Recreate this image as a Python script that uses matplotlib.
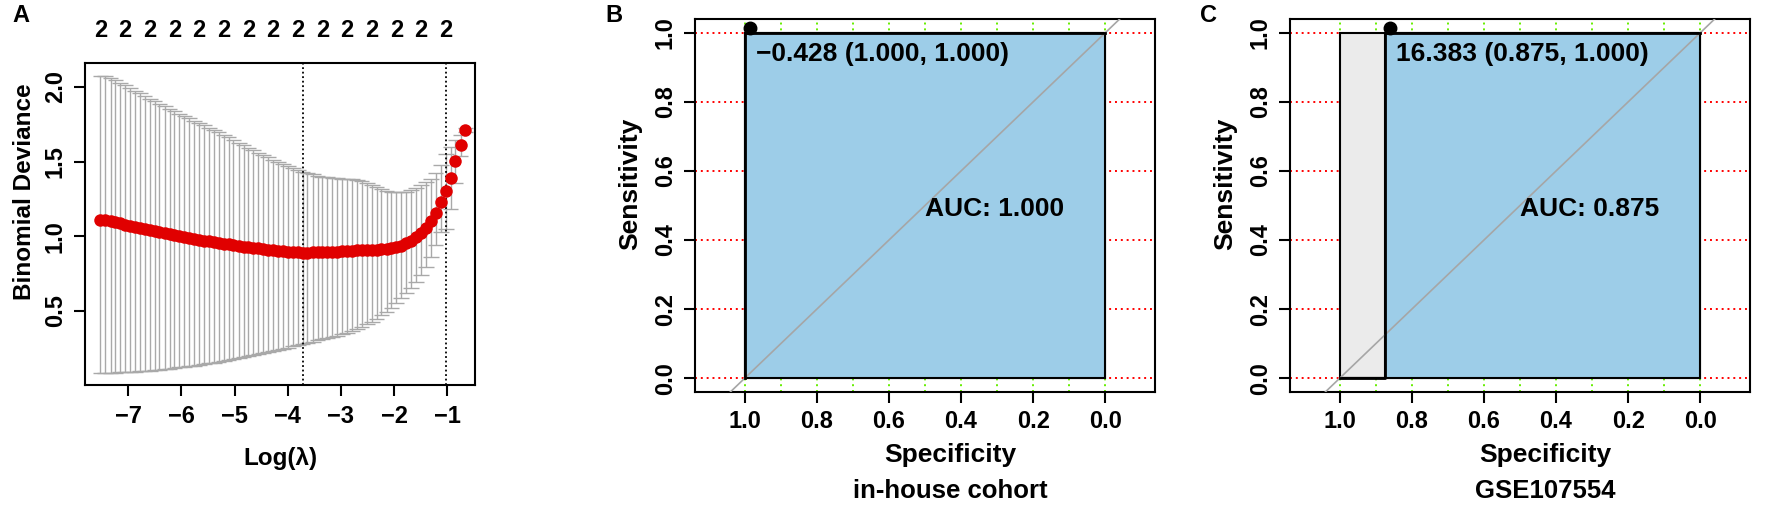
import matplotlib
matplotlib.use("Agg")
import matplotlib.pyplot as plt
from matplotlib.transforms import ScaledTranslation, blended_transform_factory

plt.rcParams['font.family'] = ['Liberation Sans', 'DejaVu Sans']
plt.rcParams['font.weight'] = 'bold'
plt.rcParams['axes.linewidth'] = 1.5

# ---- Panel A: cross-validated binomial deviance (glmnet) ----
log_lambda = [
    -7.52, -7.43, -7.33, -7.24, -7.15, -7.06, -6.96, -6.87, -6.78, -6.69,
    -6.59, -6.50, -6.41, -6.31, -6.22, -6.13, -6.04, -5.94, -5.85, -5.76,
    -5.67, -5.57, -5.48, -5.39, -5.30, -5.20, -5.11, -5.02, -4.92, -4.83,
    -4.74, -4.65, -4.55, -4.46, -4.37, -4.28, -4.18, -4.09, -4.00, -3.90,
    -3.81, -3.72, -3.63, -3.53, -3.44, -3.35, -3.26, -3.16, -3.07, -2.98,
    -2.89, -2.79, -2.70, -2.61, -2.51, -2.42, -2.33, -2.24, -2.14, -2.05,
    -1.96, -1.87, -1.77, -1.68, -1.59, -1.50, -1.40, -1.31, -1.22, -1.12,
    -1.03, -0.94, -0.85, -0.75, -0.66,
]
cv_mean = [
    1.108, 1.106, 1.100, 1.093, 1.086, 1.079, 1.072, 1.065, 1.058, 1.051,
    1.044, 1.037, 1.030, 1.023, 1.016, 1.009, 1.002, 0.996, 0.990, 0.984,
    0.978, 0.972, 0.966, 0.961, 0.956, 0.951, 0.946, 0.941, 0.936, 0.931,
    0.927, 0.923, 0.919, 0.915, 0.911, 0.907, 0.904, 0.901, 0.898, 0.895,
    0.892, 0.890, 0.891, 0.892, 0.893, 0.894, 0.895, 0.896, 0.898, 0.900,
    0.902, 0.904, 0.906, 0.908, 0.909, 0.910, 0.911, 0.913, 0.916, 0.921,
    0.928, 0.938, 0.952, 0.970, 0.993, 1.025, 1.058, 1.100, 1.156, 1.228,
    1.301, 1.391, 1.502, 1.609, 1.714,
]
cv_upper = [
    2.076, 2.070, 2.058, 2.044, 2.027, 2.010, 1.993, 1.975, 1.957, 1.938,
    1.920, 1.903, 1.886, 1.870, 1.853, 1.837, 1.822, 1.806, 1.791, 1.775,
    1.760, 1.744, 1.728, 1.712, 1.696, 1.680, 1.662, 1.644, 1.626, 1.608,
    1.590, 1.575, 1.559, 1.544, 1.528, 1.513, 1.498, 1.484, 1.470, 1.456,
    1.442, 1.432, 1.423, 1.415, 1.407, 1.400, 1.396, 1.392, 1.389, 1.386,
    1.384, 1.381, 1.377, 1.368, 1.357, 1.346, 1.333, 1.319, 1.306, 1.299,
    1.295, 1.294, 1.297, 1.307, 1.324, 1.342, 1.362, 1.385, 1.424, 1.480,
    1.553, 1.600, 1.647, 1.680, 1.728,
]
cv_lower = [
    0.085, 0.086, 0.087, 0.088, 0.089, 0.091, 0.093, 0.095, 0.097, 0.099,
    0.102, 0.105, 0.108, 0.111, 0.115, 0.119, 0.123, 0.127, 0.131, 0.135,
    0.140, 0.145, 0.150, 0.155, 0.160, 0.166, 0.172, 0.178, 0.184, 0.190,
    0.196, 0.203, 0.210, 0.217, 0.224, 0.231, 0.239, 0.247, 0.255, 0.263,
    0.272, 0.280, 0.287, 0.295, 0.303, 0.311, 0.319, 0.327, 0.335, 0.343,
    0.351, 0.365, 0.380, 0.396, 0.412, 0.429, 0.450, 0.472, 0.495, 0.522,
    0.551, 0.584, 0.618, 0.655, 0.695, 0.742, 0.795, 0.862, 0.940, 1.030,
    1.050, 1.180, 1.357, 1.540, 1.700,
]
n_nonzero = [2] * len(log_lambda)
log_lambda_min = -3.72
log_lambda_1se = -1.03

# ---- Panels B, C: ROC curves ----
roc_spec = {'B': [1.0, 1.0, 0.0], 'C': [1.0, 0.875, 0.875, 0.0]}
roc_sens = {'B': [0.0, 1.0, 1.0], 'C': [0.0, 0.0, 1.0, 1.0]}
best_thr = {'B': (-0.428, 1.000, 1.000), 'C': (16.383, 0.875, 1.000)}
auc_value = {'B': 1.000, 'C': 0.875}
cohort = {'B': 'in-house cohort', 'C': 'GSE107554'}

W, H = 1772, 507
fig = plt.figure(figsize=(W / 100, H / 100), dpi=100)


def px_axes(left, right, top, bottom):
    return fig.add_axes([left / W, 1 - bottom / H, (right - left) / W, (bottom - top) / H])


# ---------------- Panel A ----------------
ax = px_axes(85, 475, 63, 385)
grey = '#a9a9a9'
cap = 0.02 * 7.33
ax.vlines(log_lambda, cv_lower, cv_upper, color=grey, lw=1.0, zorder=1)
ax.hlines(cv_upper, [x - cap for x in log_lambda], [x + cap for x in log_lambda],
          color=grey, lw=1.0, zorder=1)
ax.hlines(cv_lower, [x - cap for x in log_lambda], [x + cap for x in log_lambda],
          color=grey, lw=1.0, zorder=1)
ax.plot(log_lambda, cv_mean, 'o', color='#e00000', ms=9, mec='none', zorder=3)
ax.axvline(log_lambda_min, color='black', ls=(0, (1, 1.5)), lw=1.3, zorder=2)
ax.axvline(log_lambda_1se, color='black', ls=(0, (1, 1.5)), lw=1.3, zorder=2)

ax.set_xlim(-7.81, -0.48)
ax.set_ylim(0.005, 2.16)
ax.set_xticks([-7, -6, -5, -4, -3, -2, -1])
ax.set_xticklabels(['\u22127', '\u22126', '\u22125', '\u22124', '\u22123', '\u22122', '\u22121'])
ax.set_yticks([0.5, 1.0, 1.5, 2.0])
ax.tick_params(length=8, width=1.5, labelsize=17)
ax.tick_params(axis='x', pad=6.5)
ax.tick_params(axis='y', pad=5)
for t in ax.get_yticklabels():
    t.set_rotation(90)
    t.set_va('center')
ax.text(0.5, -0.227, 'Log(\u03bb)', transform=ax.transAxes, ha='center', va='center',
        fontsize=17.5, fontweight='bold')
ax.text(-0.154, 0.6, 'Binomial Deviance', transform=ax.transAxes, ha='center', va='center',
        rotation=90, fontsize=17.5, fontweight='bold')

top_tr = blended_transform_factory(ax.transData, ax.transAxes)
for x, nz in list(zip(log_lambda, n_nonzero))[::5]:
    ax.text(x, 1.10, str(nz), transform=top_tr, ha='center', va='center',
            fontsize=17, fontweight='bold')

fig.text(12 / W, 1 - 15 / H, 'A', fontsize=17, fontweight='bold', ha='left', va='center')


# ---------------- Panels B & C ----------------
def draw_roc(key, left, right, letter_x):
    ax = px_axes(left, right, 19, 392)
    spec, sens = roc_spec[key], roc_sens[key]

    for v in [0.0, 0.2, 0.4, 0.6, 0.8, 1.0]:
        ax.axhline(v, color='#ff0000', ls=(0, (1, 2)), lw=1.4, zorder=0)
    for v in [0.0, 0.1, 0.2, 0.3, 0.4, 0.5, 0.6, 0.7, 0.8, 0.9, 1.0]:
        ax.axvline(v, color='#66ee00', ls=(0, (1, 2)), lw=1.4, zorder=0)

    # max AUC polygon then AUC polygon
    ax.fill([1, 1, 0, 0], [0, 1, 1, 0], facecolor='#ebebeb', edgecolor='black', lw=1.5, zorder=1)
    ax.fill(spec + [0.0], sens + [0.0], facecolor='#9dcde8', edgecolor='black', lw=1.5, zorder=2)
    ax.axline((1, 0), (0, 1), color='#a6a6a6', lw=1.2, zorder=3)
    ax.plot(spec, sens, color='black', lw=2, zorder=4)

    thr, tsp, tse = best_thr[key]
    off = ax.transData + ScaledTranslation(3.5 / 72, 3.5 / 72, fig.dpi_scale_trans)
    ax.plot([tsp], [tse], 'o', color='black', ms=9, transform=off, clip_on=False, zorder=6)
    label = f'{thr:.3f} ({tsp:.3f}, {tse:.3f})'.replace('-', '\u2212')
    ax.text(tsp - 0.03, tse - 0.06, label, ha='left', va='center', fontsize=19,
            fontweight='bold', zorder=7)
    ax.text(0.5, 0.49, f'AUC: {auc_value[key]:.3f}', ha='left', va='center',
            fontsize=19, fontweight='bold', zorder=7)

    ax.set_xlim(1.138, -0.138)
    ax.set_ylim(-0.04, 1.04)
    ax.set_xticks([1.0, 0.8, 0.6, 0.4, 0.2, 0.0])
    ax.set_xticklabels(['1.0', '0.8', '0.6', '0.4', '0.2', '0.0'])
    ax.set_yticks([0.0, 0.2, 0.4, 0.6, 0.8, 1.0])
    ax.set_yticklabels(['0.0', '0.2', '0.4', '0.6', '0.8', '1.0'])
    ax.tick_params(length=8, width=1.5, labelsize=17, pad=5)
    for t in ax.get_yticklabels():
        t.set_rotation(90)
        t.set_va('center')
    ax.text(0.555, -0.169, 'Specificity', transform=ax.transAxes, ha='center', va='center',
            fontsize=19, fontweight='bold')
    ax.text(-0.141, 0.557, 'Sensitivity', transform=ax.transAxes, ha='center', va='center',
            rotation=90, fontsize=19, fontweight='bold')
    ax.text(0.555, -0.265, cohort[key], transform=ax.transAxes, ha='center', va='center',
            fontsize=18.5, fontweight='bold')
    fig.text(letter_x / W, 1 - 15 / H, key, fontsize=17, fontweight='bold', ha='left', va='center')


draw_roc('B', 695, 1155, 605)
draw_roc('C', 1290, 1750, 1200)

fig.savefig('out.png', dpi=100)
